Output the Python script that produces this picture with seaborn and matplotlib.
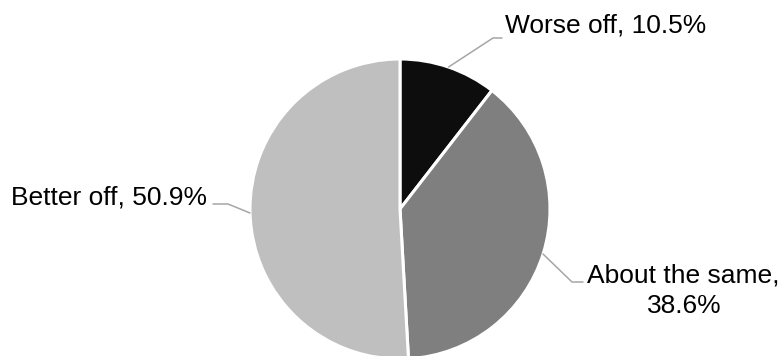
import matplotlib
matplotlib.use("Agg")
import matplotlib.pyplot as plt
import seaborn as sns

categories = ["Worse off", "About the same", "Better off"]
shares = [10.5, 38.6, 50.9]
colors = ["#0d0d0d", "#7f7f7f", "#bfbfbf"]

sns.set_theme(style="white")
plt.rcParams["font.family"] = ["Liberation Sans", "DejaVu Sans"]

W, H = 783, 356
fig = plt.figure(figsize=(W / 100, H / 100), dpi=100)
fig.patch.set_facecolor("white")

# pie centred at (400, 209) px with a 150 px radius
cx, cy, r = 400, 209, 150
ax = fig.add_axes([(cx - r) / W, (H - cy - r) / H, 2 * r / W, 2 * r / H])
ax.pie(shares, colors=colors, startangle=90, counterclock=False,
       wedgeprops=dict(edgecolor="white", linewidth=2.2))
ax.set_xlim(-1, 1)
ax.set_ylim(-1, 1)
ax.set_aspect("equal")
ax.axis("off")


def d(px, py):
    """pixel position -> data units of the pie axes"""
    return (px - cx) / r, (cy - py) / r


fs = 19
lc = "#a6a6a6"

# leader lines: wedge edge -> elbow -> end
leaders = [
    [(448.6, 67), (493, 38), (502, 38)],
    [(543, 254), (572, 282), (583, 282)],
    [(250, 213), (228, 204), (213, 204)],
]
for pts in leaders:
    xs, ys = zip(*[d(*p) for p in pts])
    ax.plot(xs, ys, color=lc, lw=1.1, clip_on=False)

lab = [f"{c}, {v}%" for c, v in zip(categories, shares)]

ax.text(*d(505, 32), lab[0], ha="left", va="baseline", fontsize=fs,
        color="black", clip_on=False)
ax.text(*d(683, 283), f"{categories[1]},", ha="center", va="baseline",
        fontsize=fs, color="black", clip_on=False)
ax.text(*d(684, 313), f"{shares[1]}%", ha="center", va="baseline",
        fontsize=fs, color="black", clip_on=False)
ax.text(*d(207, 204), lab[2], ha="right", va="baseline", fontsize=fs,
        color="black", clip_on=False)

fig.savefig("out.png", dpi=100, facecolor="white")
